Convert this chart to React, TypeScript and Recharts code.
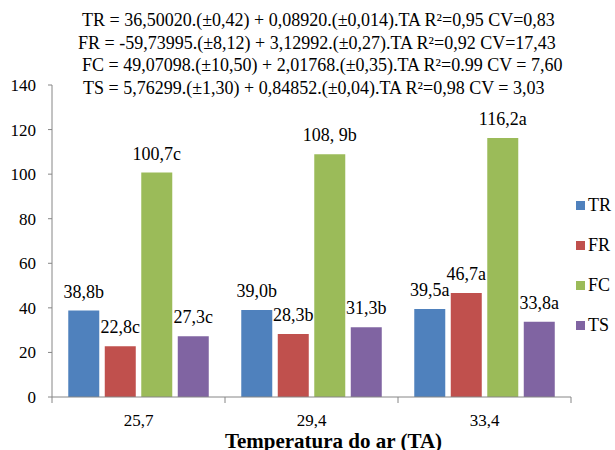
import React from "react";
import { BarChart, Bar, XAxis, YAxis, LabelList } from "recharts";

const categories = ["25,7", "29,4", "33,4"];
const seriesNames = ["TR", "FR", "FC", "TS"];
const trValues = [38.8, 39.0, 39.5];
const frValues = [22.8, 28.3, 46.7];
const fcValues = [100.7, 108.9, 116.2];
const tsValues = [27.3, 31.3, 33.8];
const trLabels = ["38,8b", "39,0b", "39,5a"];
const frLabels = ["22,8c", "28,3b", "46,7a"];
const fcLabels = ["100,7c", "108, 9b", "116,2a"];
const tsLabels = ["27,3c", "31,3b", "33,8a"];
const yTicks = [0, 20, 40, 60, 80, 100, 120, 140];
const equations = [
  "TR = 36,50020.(±0,42) + 0,08920.(±0,014).TA  R²=0,95 CV=0,83",
  "FR = -59,73995.(±8,12) + 3,12992.(±0,27).TA R²=0,92 CV=17,43",
  "FC = 49,07098.(±10,50) + 2,01768.(±0,35).TA R²=0.99 CV = 7,60",
  "TS = 5,76299.(±1,30) + 0,84852.(±0,04).TA  R²=0,98 CV = 3,03",
];
const xTitle = "Temperatura do ar (TA)";

const colors = ["#4F81BD", "#C0504D", "#9BBB59", "#8064A2"];
const FONT = "Liberation Serif, DejaVu Serif, serif";

const data = categories.map((c, i) => ({
  cat: c,
  TR: trValues[i],
  FR: frValues[i],
  FC: fcValues[i],
  TS: tsValues[i],
  TRl: trLabels[i],
  FRl: frLabels[i],
  FCl: fcLabels[i],
  TSl: tsLabels[i],
}));

const XTick = (props: any) => {
  const { x, y, payload, index } = props;
  const half = payload.offset || 0;
  return (
    <g>
      {index === 0 && <line x1={x - half} x2={x - half} y1={y} y2={y + 6} stroke="#868686" />}
      <line x1={x + half} x2={x + half} y1={y} y2={y + 6} stroke="#868686" />
      <text x={x} y={y + 29} textAnchor="middle" fontSize={17} fontFamily={FONT} fill="#000">
        {payload.value}
      </text>
    </g>
  );
};

const makeLabel = (labels: string[]) => (props: any) => {
  const { x, y, width, index } = props;
  return (
    <text x={x + width / 2} y={y - 13} textAnchor="middle" fontSize={18} fontFamily={FONT} fill="#000">
      {labels[index]}
    </text>
  );
};

const allLabels = [trLabels, frLabels, fcLabels, tsLabels];

export default function App() {
  return (
    <div style={{ position: "absolute", left: 0, top: 0, width: 615, height: 450, background: "#fff", overflow: "hidden" }}>
      <BarChart
        width={615}
        height={450}
        data={data}
        margin={{ top: 85, right: 44, bottom: 0, left: 0 }}
        barGap={5.5}
        barCategoryGap="9.4%"
      >
        <XAxis
          dataKey="cat"
          interval={0}
          tickLine={false}
          tickSize={0}
          tickMargin={0}
          tick={<XTick />}
          axisLine={{ stroke: "#868686" }}
          height={53}
          label={{
            value: xTitle,
            position: "insideBottom",
            offset: 2,
            dx: 22,
            style: { fontFamily: FONT, fontSize: 21, fontWeight: "bold", fill: "#000" },
          }}
        />
        <YAxis
          domain={[0, 140]}
          ticks={yTicks}
          interval={0}
          width={52}
          tickSize={4}
          tickMargin={12}
          axisLine={{ stroke: "#868686" }}
          tickLine={{ stroke: "#868686" }}
          tick={{ fontFamily: FONT, fontSize: 17, fill: "#000" }}
        />
        {seriesNames.map((s, i) => (
          <Bar key={s} dataKey={s} fill={colors[i]} isAnimationActive={false} name={s}>
            <LabelList dataKey={s + "l"} content={makeLabel(allLabels[i])} />
          </Bar>
        ))}
      </BarChart>
      {equations.map((e, i) => (
        <div
          key={i}
          style={{
            position: "absolute",
            left: [82, 78, 82, 83][i],
            top: 10 + i * 22.5,
            fontFamily: FONT,
            fontSize: 18,
            lineHeight: "20px",
            whiteSpace: "nowrap",
            color: "#000",
          }}
        >
          {e}
        </div>
      ))}
      <div style={{ position: "absolute", left: 576, top: 185, fontFamily: FONT, fontSize: 18 }}>
        {seriesNames.map((s, i) => (
          <div key={s} style={{ display: "flex", alignItems: "center", height: 40 }}>
            <span style={{ width: 9, height: 9, background: colors[i], display: "inline-block", marginRight: 3 }} />
            <span>{s}</span>
          </div>
        ))}
      </div>
    </div>
  );
}
